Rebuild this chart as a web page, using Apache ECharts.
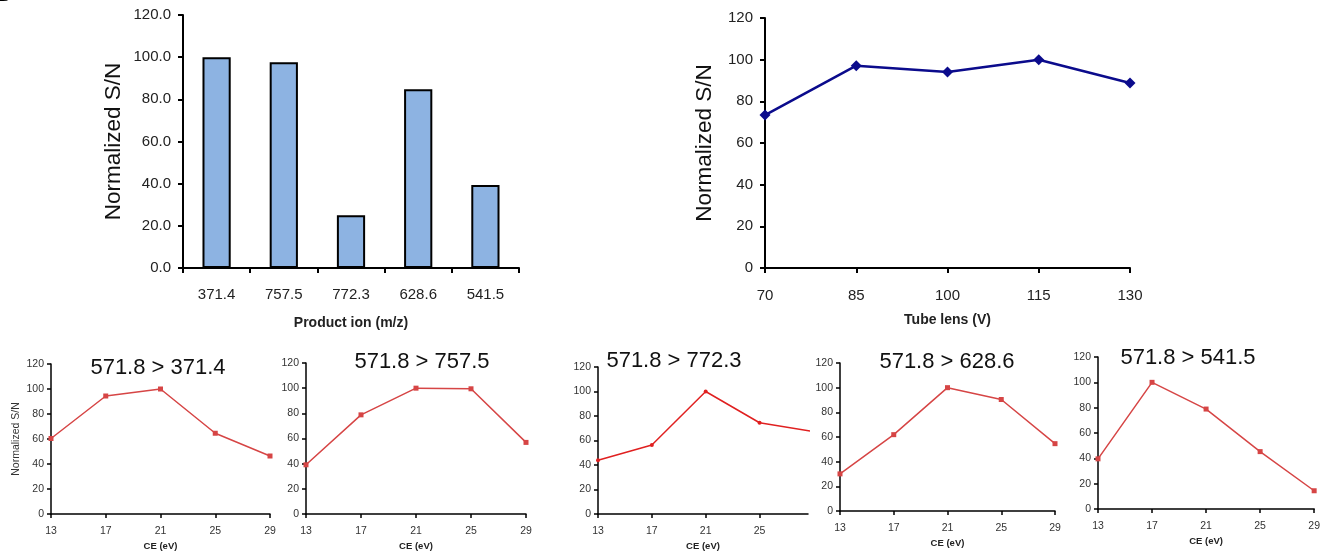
<!DOCTYPE html>
<html>
<head>
<meta charset="utf-8">
<script src="https://cdn.jsdelivr.net/npm/echarts@6/dist/echarts.min.js"></script>
<style>
html,body{margin:0;padding:0;background:#fff;}
#chart{width:1323px;height:552px;}
</style>
</head>
<body>
<div id="chart"></div>
<script>
// ---- data ----
const productIons = ['371.4', '757.5', '772.3', '628.6', '541.5'];
const productIonSN = [100.0, 97.6, 25.0, 84.8, 39.4];

const tubeLens = ['70', '85', '100', '115', '130'];
const tubeLensSN = [73.4, 97.1, 94.1, 100.0, 88.8];

const ceValues = [13, 17, 21, 25, 29];
const transitionTitles = ['571.8 > 371.4', '571.8 > 757.5', '571.8 > 772.3', '571.8 > 628.6', '571.8 > 541.5'];
const ceSN_371 = [60.4, 94.4, 100.0, 64.6, 46.4];
const ceSN_757 = [39.1, 78.8, 100.0, 99.5, 56.9];
const ceSN_772 = [43.8, 56.3, 100.0, 74.5, 67.3];
const ceSN_628 = [30.1, 61.9, 100.0, 90.4, 54.6];
const ceSN_541 = [39.6, 100.0, 78.9, 45.3, 14.4];
const ceSeries = [ceSN_371, ceSN_757, ceSN_772, ceSN_628, ceSN_541];

// ---- layout ----
const chart = echarts.init(document.getElementById('chart'));
const FONT = '"Liberation Sans", Arial, sans-serif';
const NARROW = '"Liberation Sans Narrow", "Liberation Sans", Arial, sans-serif';

const smallGrids = [
  {left: 51, top: 364, width: 219, height: 152, max: 29, color: '#d64545', sym: 'rect', ss: 5, tx: 158, ty: 357},
  {left: 306, top: 363, width: 220, height: 151, max: 29, color: '#d64545', sym: 'rect', ss: 5, tx: 422, ty: 351},
  {left: 598, top: 367, width: 210, height: 147, max: 28.6, color: '#e02020', sym: 'circle', ss: 4, tx: 674, ty: 350},
  {left: 840, top: 363, width: 215, height: 148, max: 29, color: '#d64545', sym: 'rect', ss: 5, tx: 947, ty: 351},
  {left: 1098, top: 357, width: 221, height: 152, max: 29, color: '#d64545', sym: 'rect', ss: 5, tx: 1188, ty: 347}
];

const grid = [
  {left: 183, top: 15, width: 336, height: 253},
  {left: 765, top: 18, width: 365, height: 250}
];
const xAxis = [
  {
    gridIndex: 0, type: 'category', data: productIons,
    axisLine: {lineStyle: {color: '#000', width: 2}},
    axisTick: {show: true, length: 5, lineStyle: {color: '#000', width: 2}},
    axisLabel: {color: '#222', fontSize: 15, fontFamily: FONT, margin: 19},
    name: 'Product ion (m/z)', nameLocation: 'middle', nameGap: 48,
    nameTextStyle: {color: '#222', fontSize: 14, fontWeight: 'bold', fontFamily: FONT}
  },
  {
    gridIndex: 1, type: 'category', data: tubeLens, boundaryGap: false,
    axisLine: {lineStyle: {color: '#000', width: 2}},
    axisTick: {show: true, length: 5, lineStyle: {color: '#000', width: 2}},
    axisLabel: {color: '#222', fontSize: 15, fontFamily: FONT, margin: 20},
    name: 'Tube lens (V)', nameLocation: 'middle', nameGap: 45,
    nameTextStyle: {color: '#222', fontSize: 14, fontWeight: 'bold', fontFamily: FONT}
  }
];
const yAxis = [
  {
    gridIndex: 0, type: 'value', min: 0, max: 120, interval: 20,
    axisLine: {show: true, lineStyle: {color: '#000', width: 2}},
    axisTick: {show: true, length: 5, lineStyle: {color: '#000', width: 2}},
    splitLine: {show: false},
    axisLabel: {color: '#222', fontSize: 15, fontFamily: FONT, margin: 12, formatter: v => v.toFixed(1)},
    name: 'Normalized S/N', nameLocation: 'middle', nameGap: 58,
    nameTextStyle: {color: '#111', fontSize: 22.5, fontFamily: FONT}
  },
  {
    gridIndex: 1, type: 'value', min: 0, max: 120, interval: 20,
    axisLine: {show: true, lineStyle: {color: '#000', width: 2}},
    axisTick: {show: true, length: 5, lineStyle: {color: '#000', width: 2}},
    splitLine: {show: false},
    axisLabel: {color: '#222', fontSize: 15, fontFamily: FONT, margin: 12},
    name: 'Normalized S/N', nameLocation: 'middle', nameGap: 49,
    nameTextStyle: {color: '#111', fontSize: 22.5, fontFamily: FONT}
  }
];
const series = [
  {
    type: 'bar', xAxisIndex: 0, yAxisIndex: 0, data: productIonSN, barWidth: '42%',
    itemStyle: {color: '#8db3e2', borderColor: '#000', borderWidth: 2},
    silent: true
  },
  {
    type: 'line', xAxisIndex: 1, yAxisIndex: 1, data: tubeLensSN,
    symbol: 'diamond', symbolSize: 11,
    lineStyle: {color: '#0b0b8c', width: 2.5},
    itemStyle: {color: '#0b0b8c'}, silent: true
  }
];
const graphic = [
  {type: 'text', left: -9, top: -22, style: {text: 'B', fontSize: 30, fontWeight: 'bold', fontFamily: FONT, fill: '#000'}}
];

smallGrids.forEach((g, i) => {
  const gi = grid.length;
  grid.push({left: g.left, top: g.top, width: g.width, height: g.height});
  xAxis.push({
    gridIndex: gi, type: 'value', min: 13, max: g.max,
    axisLine: {lineStyle: {color: '#000', width: 1.5}},
    axisTick: {show: true, length: 4, customValues: ceValues.filter(v => v <= g.max), lineStyle: {color: '#000', width: 1.5}},
    axisLabel: {color: '#333', fontSize: 10.5, fontFamily: FONT, margin: 12, customValues: ceValues.filter(v => v <= g.max), showMaxLabel: true},
    splitLine: {show: false},
    name: 'CE (eV)', nameLocation: 'middle', nameGap: 27,
    nameTextStyle: {color: '#222', fontSize: 9.5, fontWeight: 'bold', fontFamily: FONT}
  });
  yAxis.push({
    gridIndex: gi, type: 'value', min: 0, max: 120, interval: 20,
    axisLine: {show: true, lineStyle: {color: '#000', width: 1.5}},
    axisTick: {show: true, length: 4, lineStyle: {color: '#000', width: 1.5}},
    splitLine: {show: false},
    axisLabel: {color: '#333', fontSize: 10.5, fontFamily: FONT, margin: 7},
    name: i === 0 ? 'Normalized S/N' : '', nameLocation: 'middle', nameGap: 29,
    nameTextStyle: {color: '#333', fontSize: 10.5, fontFamily: FONT}
  });
  series.push({
    type: 'line', xAxisIndex: gi, yAxisIndex: gi,
    data: ceValues.map((c, k) => [c, ceSeries[i][k]]),
    symbol: g.sym, symbolSize: g.ss, clip: true,
    lineStyle: {color: g.color, width: 1.5},
    itemStyle: {color: g.color}, silent: true
  });
  graphic.push({
    type: 'text', x: g.tx, y: g.ty,
    style: {text: transitionTitles[i], fontSize: 22, fontFamily: NARROW, fill: '#111', align: 'center', verticalAlign: 'top'}
  });
});

chart.setOption({
  animation: false,
  backgroundColor: '#fff',
  grid, xAxis, yAxis, series, graphic
});
</script>
</body>
</html>
